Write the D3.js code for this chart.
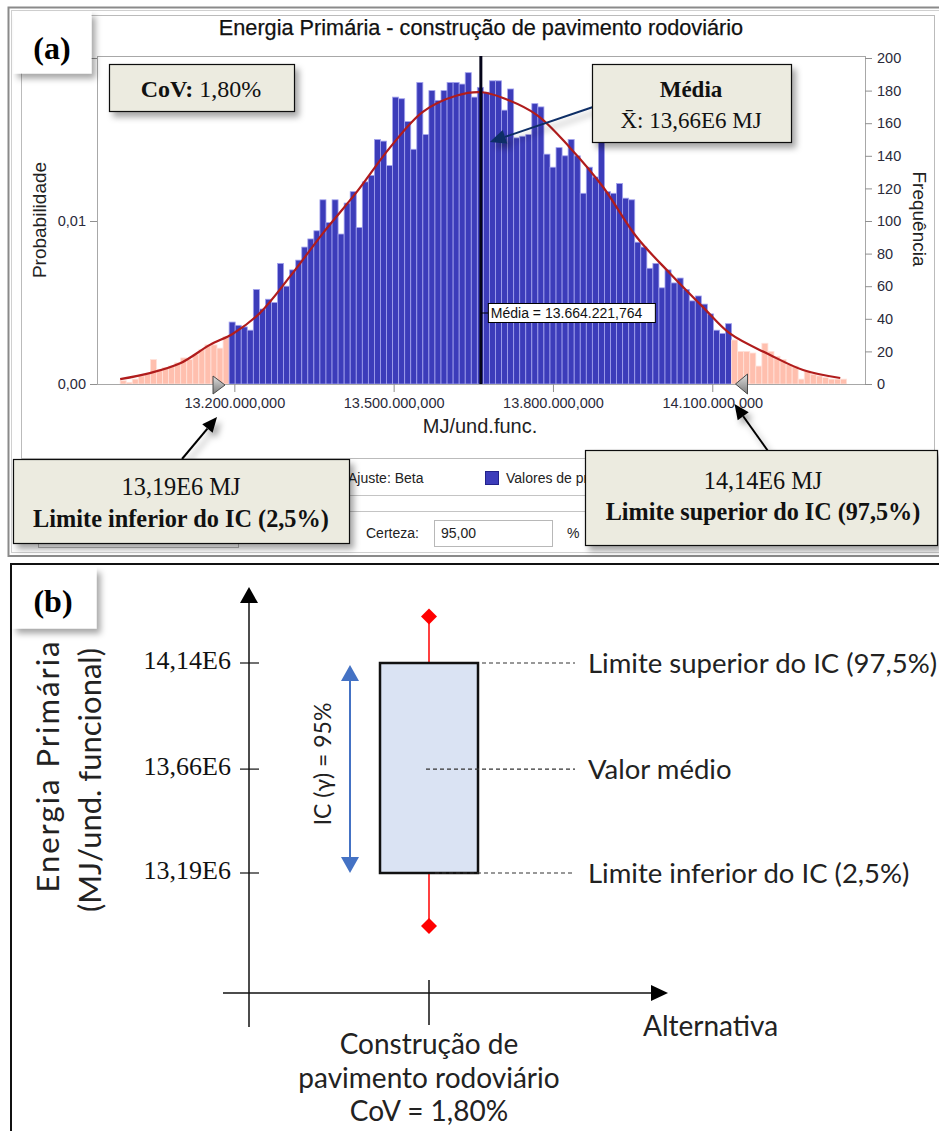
<!DOCTYPE html>
<html>
<head>
<meta charset="utf-8">
<script src="https://cdn.jsdelivr.net/npm/d3@7"></script>
<style>
  body { margin: 0; background: #fff; overflow: hidden; }
  svg { display: block; }
</style>
</head>
<body>
<div id="chart"></div>
<script>
// ---- data (a): histogram of 10000 trials ----
var binStart = 12985000, binWidth = 11400;
var freq = [2, 1, 3, 5, 6, 15, 9, 10, 11, 13, 16, 15, 18, 21, 24, 24, 22, 29,
  38, 36, 35, 33, 58, 46, 52, 50, 74, 60, 70, 76, 84, 89, 94, 113, 99, 113, 92, 111, 118, 96,
  124, 128, 150, 149, 134, 176, 175, 161, 144, 185, 153, 180, 174, 180, 185, 185, 184, 191, 176, 182,
  179, 186, 186, 168, 181, 151, 152, 153, 172, 170, 141, 133, 145, 140, 150, 140, 117, 133, 127, 150,
  118, 117, 123, 114, 113, 87, 84, 71, 74, 59, 70, 62, 65, 58, 51, 54, 49, 43, 33, 31, 37,
  27, 20, 20, 19, 11, 25, 20, 17, 15, 12, 11, 3, 8, 6, 5, 4, 3, 3, 3];
// fitted Beta curve
var fitX = [12985000, 13041000, 13098000, 13154000, 13198000, 13248000, 13305000, 13367000,
  13431000, 13493000, 13555000, 13619000, 13666000, 13706000, 13770000, 13832000, 13894000,
  13958000, 14020000, 14083000, 14133000, 14209000, 14271000, 14341000];
var fitY = [3, 6.7, 12.7, 24, 31, 43.5, 66, 92.6, 118, 145, 167, 177, 179, 175.5, 165, 145, 121,
  90, 68, 47, 31, 17.8, 8.6, 3.7];
var mean = 13664221.764, ciLow = 13190000, ciHigh = 14140000, cov = 1.80;
var xTicks = [13200000, 13500000, 13800000, 14100000];
var freqTicks = [0, 20, 40, 60, 80, 100, 120, 140, 160, 180, 200];
var probTicks = [0, 0.01, 0.02];
var probLabeled = [0, 0.01];   // 0,02 sits under the "(a)" tag

// ---- data (b) ----
var bTicks = [13190000, 13660000, 14140000];
var bMin = 12950000, bMax = 14350000;
var category = ["Construção de", "pavimento rodoviário", "CoV = 1,80%"];

var pt = d3.formatLocale({decimal: ",", thousands: ".", grouping: [3], currency: ["", ""]});
var fmtBig = pt.format(",.3f"), fmtProb = pt.format(",.2f"), fmt2 = pt.format(".2f");
function e6(v) { return fmt2(v / 1e6) + "E6"; }

var svg = d3.select("#chart").append("svg").attr("width", 939).attr("height", 1131);
var defs = svg.append("defs");
var flt = defs.append("filter").attr("id", "shadow")
  .attr("x", "-20%").attr("y", "-20%").attr("width", "150%").attr("height", "170%");
flt.append("feDropShadow").attr("dx", 4).attr("dy", 5).attr("stdDeviation", 3)
  .attr("flood-color", "#000").attr("flood-opacity", 0.35);
var gr = defs.append("linearGradient").attr("id", "tri").attr("x1", 0).attr("y1", 0).attr("x2", 0).attr("y2", 1);
gr.append("stop").attr("offset", "0%").attr("stop-color", "#e0e0e0");
gr.append("stop").attr("offset", "100%").attr("stop-color", "#7a7a7a");

var sans = "'Liberation Sans', Arial, sans-serif";
var serif = "'Liberation Serif', 'Times New Roman', serif";
var cal = "Lato, 'Open Sans', sans-serif";

// ================= panel (a) =================
var A = svg.append("g");
A.append("rect").attr("x", 8.5).attr("y", 7.5).attr("width", 940).attr("height", 548.5)
  .attr("fill", "#fff").attr("stroke", "#8a8a8a").attr("stroke-width", 2);
A.append("rect").attr("x", 11.5).attr("y", 10.5).attr("width", 940).attr("height", 542)
  .attr("fill", "none").attr("stroke", "#d0d0d0").attr("stroke-width", 1);
A.append("rect").attr("x", 21.5).attr("y", 15.5).attr("width", 913).attr("height", 443)
  .attr("fill", "none").attr("stroke", "#777").attr("stroke-dasharray", "1,1");

var pa = {left: 97, right: 865, top: 56, bottom: 384};
var xA = d3.scaleLinear().domain([12941400, 14387600]).range([pa.left, pa.right]);
var yF = d3.scaleLinear().domain([0, 200]).range([pa.bottom, 58]);
var yP = d3.scaleLinear().domain([0, 0.02]).range([pa.bottom, 58]);

A.append("text").attr("x", 481).attr("y", 35).attr("text-anchor", "middle")
  .style("font-family", sans).style("font-size", "21.7px").attr("fill", "#111")
  .attr("stroke", "#111").attr("stroke-width", 0.25)
  .text("Energia Primária  - construção de pavimento rodoviário");

var bins = freq.map(function(n, i) {
  var x0 = binStart + i * binWidth;
  return {x0: x0, x1: x0 + binWidth, n: n};
});
A.append("g").selectAll("rect").data(bins).enter().append("rect")
  .attr("x", function(d) { return xA(d.x0); })
  .attr("width", function(d) { return xA(d.x1) - xA(d.x0); })
  .attr("y", function(d) { return yF(d.n); })
  .attr("height", function(d) { return yF(0) - yF(d.n); })
  .attr("fill", function(d) { var c = (d.x0 + d.x1) / 2; return (c < ciLow || c > ciHigh) ? "#ffbfae" : "#3c3cba"; })
  .attr("stroke", function(d) { var c = (d.x0 + d.x1) / 2; return (c < ciLow || c > ciHigh) ? "#ffe2da" : "#a3a3ee"; })
  .attr("stroke-width", 0.8);

// plot frame
A.append("rect").attr("x", pa.left + 0.5).attr("y", pa.top + 0.5)
  .attr("width", pa.right - pa.left).attr("height", pa.bottom - pa.top)
  .attr("fill", "none").attr("stroke", "#a8a8a8");

var fit = fitX.map(function(x, i) { return [x, fitY[i]]; });
A.append("path").datum(fit)
  .attr("d", d3.line().x(function(d) { return xA(d[0]); }).y(function(d) { return yF(d[1]); }).curve(d3.curveCatmullRom))
  .attr("fill", "none").attr("stroke", "#b01c1c").attr("stroke-width", 2.2);

// axes
function styleAxis(g) {
  g.select(".domain").remove();
  g.selectAll("line").attr("stroke", "#909090");
  g.selectAll("text").style("font-family", sans).style("font-size", "14.5px").attr("fill", "#2a2a3a");
}
A.append("g").attr("transform", "translate(0," + pa.bottom + ")")
  .call(d3.axisBottom(xA).tickValues(xTicks).tickFormat(fmtBig).tickSize(8).tickPadding(6)).call(styleAxis);
A.append("g").attr("transform", "translate(" + pa.left + ",0)")
  .call(d3.axisLeft(yP).tickValues(probTicks)
    .tickFormat(function(d) { return probLabeled.indexOf(d) >= 0 ? fmtProb(d) : ""; })
    .tickSize(7).tickPadding(4)).call(styleAxis);
A.append("g").attr("transform", "translate(" + pa.right + ",0)")
  .call(d3.axisRight(yF).tickValues(freqTicks).tickSize(7).tickPadding(5)).call(styleAxis);

A.append("text").attr("x", 480).attr("y", 433).attr("text-anchor", "middle")
  .style("font-family", sans).style("font-size", "20px").attr("fill", "#222").text("MJ/und.func.");
A.append("text").attr("transform", "translate(46,220) rotate(-90)").attr("text-anchor", "middle")
  .style("font-family", sans).style("font-size", "19px").attr("fill", "#222").text("Probabilidade");
A.append("text").attr("transform", "translate(913,219) rotate(90)").attr("text-anchor", "middle")
  .style("font-family", sans).style("font-size", "19px").attr("fill", "#222").text("Frequência");

// mean line and label
var mx = xA(mean);
A.append("line").attr("x1", mx).attr("x2", mx).attr("y1", pa.top).attr("y2", pa.bottom)
  .attr("stroke", "#05051a").attr("stroke-width", 3);
A.append("line").attr("x1", mx).attr("x2", mx + 8).attr("y1", 313).attr("y2", 313).attr("stroke", "#000");
A.append("rect").attr("x", mx + 7.5).attr("y", 303.5).attr("width", 167).attr("height", 19)
  .attr("fill", "#fff").attr("stroke", "#000");
A.append("text").attr("x", mx + 10).attr("y", 318).style("font-family", sans).style("font-size", "14px")
  .attr("fill", "#111").text("Média = " + fmtBig(mean));

// CI markers
var lx = xA(ciLow) - 4, rx = xA(ciHigh) + 2;
A.append("path").attr("d", "M" + (lx - 12) + ",376L" + lx + ",385L" + (lx - 12) + ",394Z")
  .attr("fill", "url(#tri)").attr("stroke", "#4a4a4a");
A.append("path").attr("d", "M" + (rx + 12) + ",374L" + rx + ",384L" + (rx + 12) + ",394Z")
  .attr("fill", "url(#tri)").attr("stroke", "#4a4a4a");

// legend / controls strip
A.append("line").attr("x1", 21).attr("x2", 935).attr("y1", 495.5).attr("y2", 495.5).attr("stroke", "#c4c4c4");
A.append("line").attr("x1", 21).attr("x2", 935).attr("y1", 511.5).attr("y2", 511.5).attr("stroke", "#c4c4c4");
A.append("text").attr("x", 348).attr("y", 483).style("font-family", sans).style("font-size", "14px")
  .attr("fill", "#222").text("Ajuste: Beta");
A.append("rect").attr("x", 485.5).attr("y", 471.5).attr("width", 13).attr("height", 13)
  .attr("fill", "#3c3cba").attr("stroke", "#22228a");
A.append("text").attr("x", 506).attr("y", 483).style("font-family", sans).style("font-size", "14px")
  .attr("fill", "#222").text("Valores de previsão");
A.append("rect").attr("x", 38.5).attr("y", 520.5).attr("width", 200).attr("height", 27)
  .attr("fill", "#fff").attr("stroke", "#b8b8b8");
A.append("text").attr("x", 366).attr("y", 538).style("font-family", sans).style("font-size", "14px")
  .attr("fill", "#222").text("Certeza:");
A.append("rect").attr("x", 434.5).attr("y", 520.5).attr("width", 118).attr("height", 26)
  .attr("fill", "#fff").attr("stroke", "#b8b8b8");
A.append("text").attr("x", 441).attr("y", 538).style("font-family", sans).style("font-size", "14px")
  .attr("fill", "#222").text(fmt2(95));
A.append("text").attr("x", 567).attr("y", 538).style("font-family", sans).style("font-size", "14px")
  .attr("fill", "#222").text("%");

// arrows
function arrow(g, x1, y1, x2, y2, col, w, head) {
  var a = Math.atan2(y2 - y1, x2 - x1), L = head, hw = head * 0.45;
  var bx = x2 - L * Math.cos(a), by = y2 - L * Math.sin(a);
  var s = g.append("g").attr("filter", "url(#shadow)");
  s.append("line").attr("x1", x1).attr("y1", y1).attr("x2", bx).attr("y2", by)
    .attr("stroke", col).attr("stroke-width", w);
  s.append("path").attr("d", "M" + x2 + "," + y2 +
      "L" + (bx + hw * Math.sin(a)) + "," + (by - hw * Math.cos(a)) +
      "L" + (bx - hw * Math.sin(a)) + "," + (by + hw * Math.cos(a)) + "Z")
    .attr("fill", col);
}
arrow(A, 593, 107, mx + 9, 142, "#0f2e66", 2, 16);
arrow(A, 182, 459, xA(ciLow) - 12, 417, "#000", 2, 15);
arrow(A, 768, 451, xA(ciHigh) + 1, 404, "#000", 2, 15);

// annotation boxes
function box(g, x, y, w, h, fill) {
  return g.append("rect").attr("x", x + 0.5).attr("y", y + 0.5).attr("width", w).attr("height", h)
    .attr("fill", fill).attr("stroke", fill === "#fff" ? "none" : "#111").attr("stroke-width", 1.2)
    .attr("filter", "url(#shadow)");
}
var beige = "#ecebe0";
box(A, 13, 11, 78, 62, "#fff");
A.append("text").attr("x", 52).attr("y", 59).attr("text-anchor", "middle")
  .style("font-family", serif).style("font-weight", "bold").style("font-size", "32px").text("(a)");

box(A, 109, 64, 185, 47, beige);
var tc = A.append("text").attr("x", 201).attr("y", 97).attr("text-anchor", "middle")
  .style("font-family", serif).style("font-size", "24px").attr("fill", "#111");
tc.append("tspan").style("font-weight", "bold").text("CoV:");
tc.append("tspan").text(" " + fmt2(cov) + "%");

box(A, 592, 64, 199, 78, beige);
A.append("text").attr("x", 691).attr("y", 97).attr("text-anchor", "middle")
  .style("font-family", serif).style("font-size", "23px").style("font-weight", "bold").attr("fill", "#111").text("Média");
A.append("text").attr("x", 691).attr("y", 128).attr("text-anchor", "middle")
  .style("font-family", serif).style("font-size", "23px").attr("fill", "#111").text("X\u0304: " + e6(mean) + " MJ");

box(A, 13, 459, 336, 84, beige);
A.append("text").attr("x", 181).attr("y", 495).attr("text-anchor", "middle")
  .style("font-family", serif).style("font-size", "24.3px").attr("fill", "#111").text(e6(ciLow) + " MJ");
A.append("text").attr("x", 181).attr("y", 527).attr("text-anchor", "middle")
  .style("font-family", serif).style("font-size", "24.3px").style("font-weight", "bold").attr("fill", "#111")
  .text("Limite inferior do IC (2,5%)");

box(A, 585, 450, 352, 95, beige);
A.append("text").attr("x", 763).attr("y", 489).attr("text-anchor", "middle")
  .style("font-family", serif).style("font-size", "24.2px").attr("fill", "#111").text(e6(ciHigh) + " MJ");
A.append("text").attr("x", 763).attr("y", 520).attr("text-anchor", "middle")
  .style("font-family", serif).style("font-size", "24.2px").style("font-weight", "bold").attr("fill", "#111")
  .text("Limite superior do IC (97,5%)");

// ================= panel (b) =================
var B = svg.append("g");
B.append("rect").attr("x", 11).attr("y", 564).attr("width", 940).attr("height", 580)
  .attr("fill", "#fff").attr("stroke", "#111").attr("stroke-width", 2);
box(B, 12, 567, 84, 61, "#fff");
B.append("text").attr("x", 53).attr("y", 612).attr("text-anchor", "middle")
  .style("font-family", serif).style("font-weight", "bold").style("font-size", "32px").text("(b)");

var yB = d3.scaleLinear().domain([13190000, 14140000]).range([873, 663]);
var xB = d3.scalePoint().domain([category.join(" ")]).range([249, 609]).padding(0.5);
var axX = 249, axY = 993;

// axes
B.append("line").attr("x1", axX).attr("x2", axX).attr("y1", 1027).attr("y2", 600)
  .attr("stroke", "#111").attr("stroke-width", 1.5);
B.append("path").attr("d", "M" + axX + ",587L" + (axX - 9) + ",603L" + (axX + 9) + ",603Z").attr("fill", "#000");
B.append("line").attr("x1", 223).attr("x2", 655).attr("y1", axY).attr("y2", axY)
  .attr("stroke", "#111").attr("stroke-width", 1.5);
B.append("path").attr("d", "M668," + axY + "L651," + (axY - 8) + "L651," + (axY + 8) + "Z").attr("fill", "#000");
var cx = xB(category.join(" "));
B.append("line").attr("x1", cx).attr("x2", cx).attr("y1", 980).attr("y2", 1025)
  .attr("stroke", "#111").attr("stroke-width", 1.5);

B.selectAll(".ytk").data(bTicks).enter().append("line")
  .attr("x1", axX - 9).attr("x2", axX + 10)
  .attr("y1", function(d) { return yB(d); }).attr("y2", function(d) { return yB(d); })
  .attr("stroke", "#111").attr("stroke-width", 1.2);
B.selectAll(".ylb").data(bTicks).enter().append("text")
  .attr("x", 231).attr("y", function(d) { return yB(d) + 6; }).attr("text-anchor", "end")
  .style("font-family", serif).style("font-size", "26px").attr("fill", "#111")
  .text(function(d) { return e6(d); });

B.append("text").attr("transform", "translate(59,766) rotate(-90)").attr("text-anchor", "middle")
  .style("font-family", cal).style("font-size", "31px").style("letter-spacing", "2px")
  .attr("fill", "#222").text("Energia Primária");
B.append("text").attr("transform", "translate(101,780) rotate(-90)").attr("text-anchor", "middle")
  .style("font-family", cal).style("font-size", "31px").attr("fill", "#222").text("(MJ/und. funcional)");

B.append("text").attr("x", 643).attr("y", 1036)
  .style("font-family", cal).style("font-size", "28px").attr("fill", "#222").text("Alternativa");
B.selectAll(".cat").data(category).enter().append("text")
  .attr("x", cx).attr("y", function(d, i) { return 1054 + i * 33.5; }).attr("text-anchor", "middle")
  .style("font-family", cal).style("font-size", "28px").attr("fill", "#222")
  .text(function(d) { return d; });

// whiskers + extreme diamonds
[bMax, bMin].forEach(function(v) {
  var edge = v > mean ? yB(ciHigh) : yB(ciLow);
  B.append("line").attr("x1", cx).attr("x2", cx).attr("y1", yB(v)).attr("y2", edge)
    .attr("stroke", "#ff0000").attr("stroke-width", 1.5);
  B.append("path").attr("transform", "translate(" + cx + "," + yB(v) + ")")
    .attr("d", "M0,-8L8,0L0,8L-8,0Z").attr("fill", "#ff0000");
});

// CI box
B.append("rect").attr("x", cx - 49).attr("y", yB(ciHigh)).attr("width", 98)
  .attr("height", yB(ciLow) - yB(ciHigh))
  .attr("fill", "#dae3f3").attr("stroke", "#111").attr("stroke-width", 2.5);

// dashed leaders and labels
var leaders = [
  {v: ciHigh, x1: cx + 53, label: "Limite superior do IC (97,5%)"},
  {v: 13660000, x1: cx - 3, label: "Valor médio"},
  {v: ciLow, x1: cx + 6, label: "Limite inferior do IC (2,5%)"}
];
leaders.forEach(function(d) {
  B.append("line").attr("x1", d.x1).attr("x2", 575).attr("y1", yB(d.v)).attr("y2", yB(d.v))
    .attr("stroke", "#333").attr("stroke-width", 1.2).attr("stroke-dasharray", "4,3");
  B.append("text").attr("x", 588).attr("y", yB(d.v) + 10)
    .style("font-family", cal).style("font-size", "27.5px").attr("fill", "#222").text(d.label);
});

// IC double arrow
var ax = 350, t1 = yB(ciHigh) + 2, t2 = yB(ciLow);
B.append("line").attr("x1", ax).attr("x2", ax).attr("y1", t1 + 14).attr("y2", t2 - 14)
  .attr("stroke", "#4472c4").attr("stroke-width", 2);
B.append("path").attr("d", "M" + ax + "," + t1 + "L" + (ax - 9) + "," + (t1 + 16) + "L" + (ax + 9) + "," + (t1 + 16) + "Z").attr("fill", "#4472c4");
B.append("path").attr("d", "M" + ax + "," + t2 + "L" + (ax - 9) + "," + (t2 - 16) + "L" + (ax + 9) + "," + (t2 - 16) + "Z").attr("fill", "#4472c4");
B.append("text").attr("transform", "translate(331,764) rotate(-90)").attr("text-anchor", "middle")
  .style("font-family", cal).style("font-size", "23px").attr("fill", "#222").text("IC (\u03b3) = 95%");
</script>
</body>
</html>
